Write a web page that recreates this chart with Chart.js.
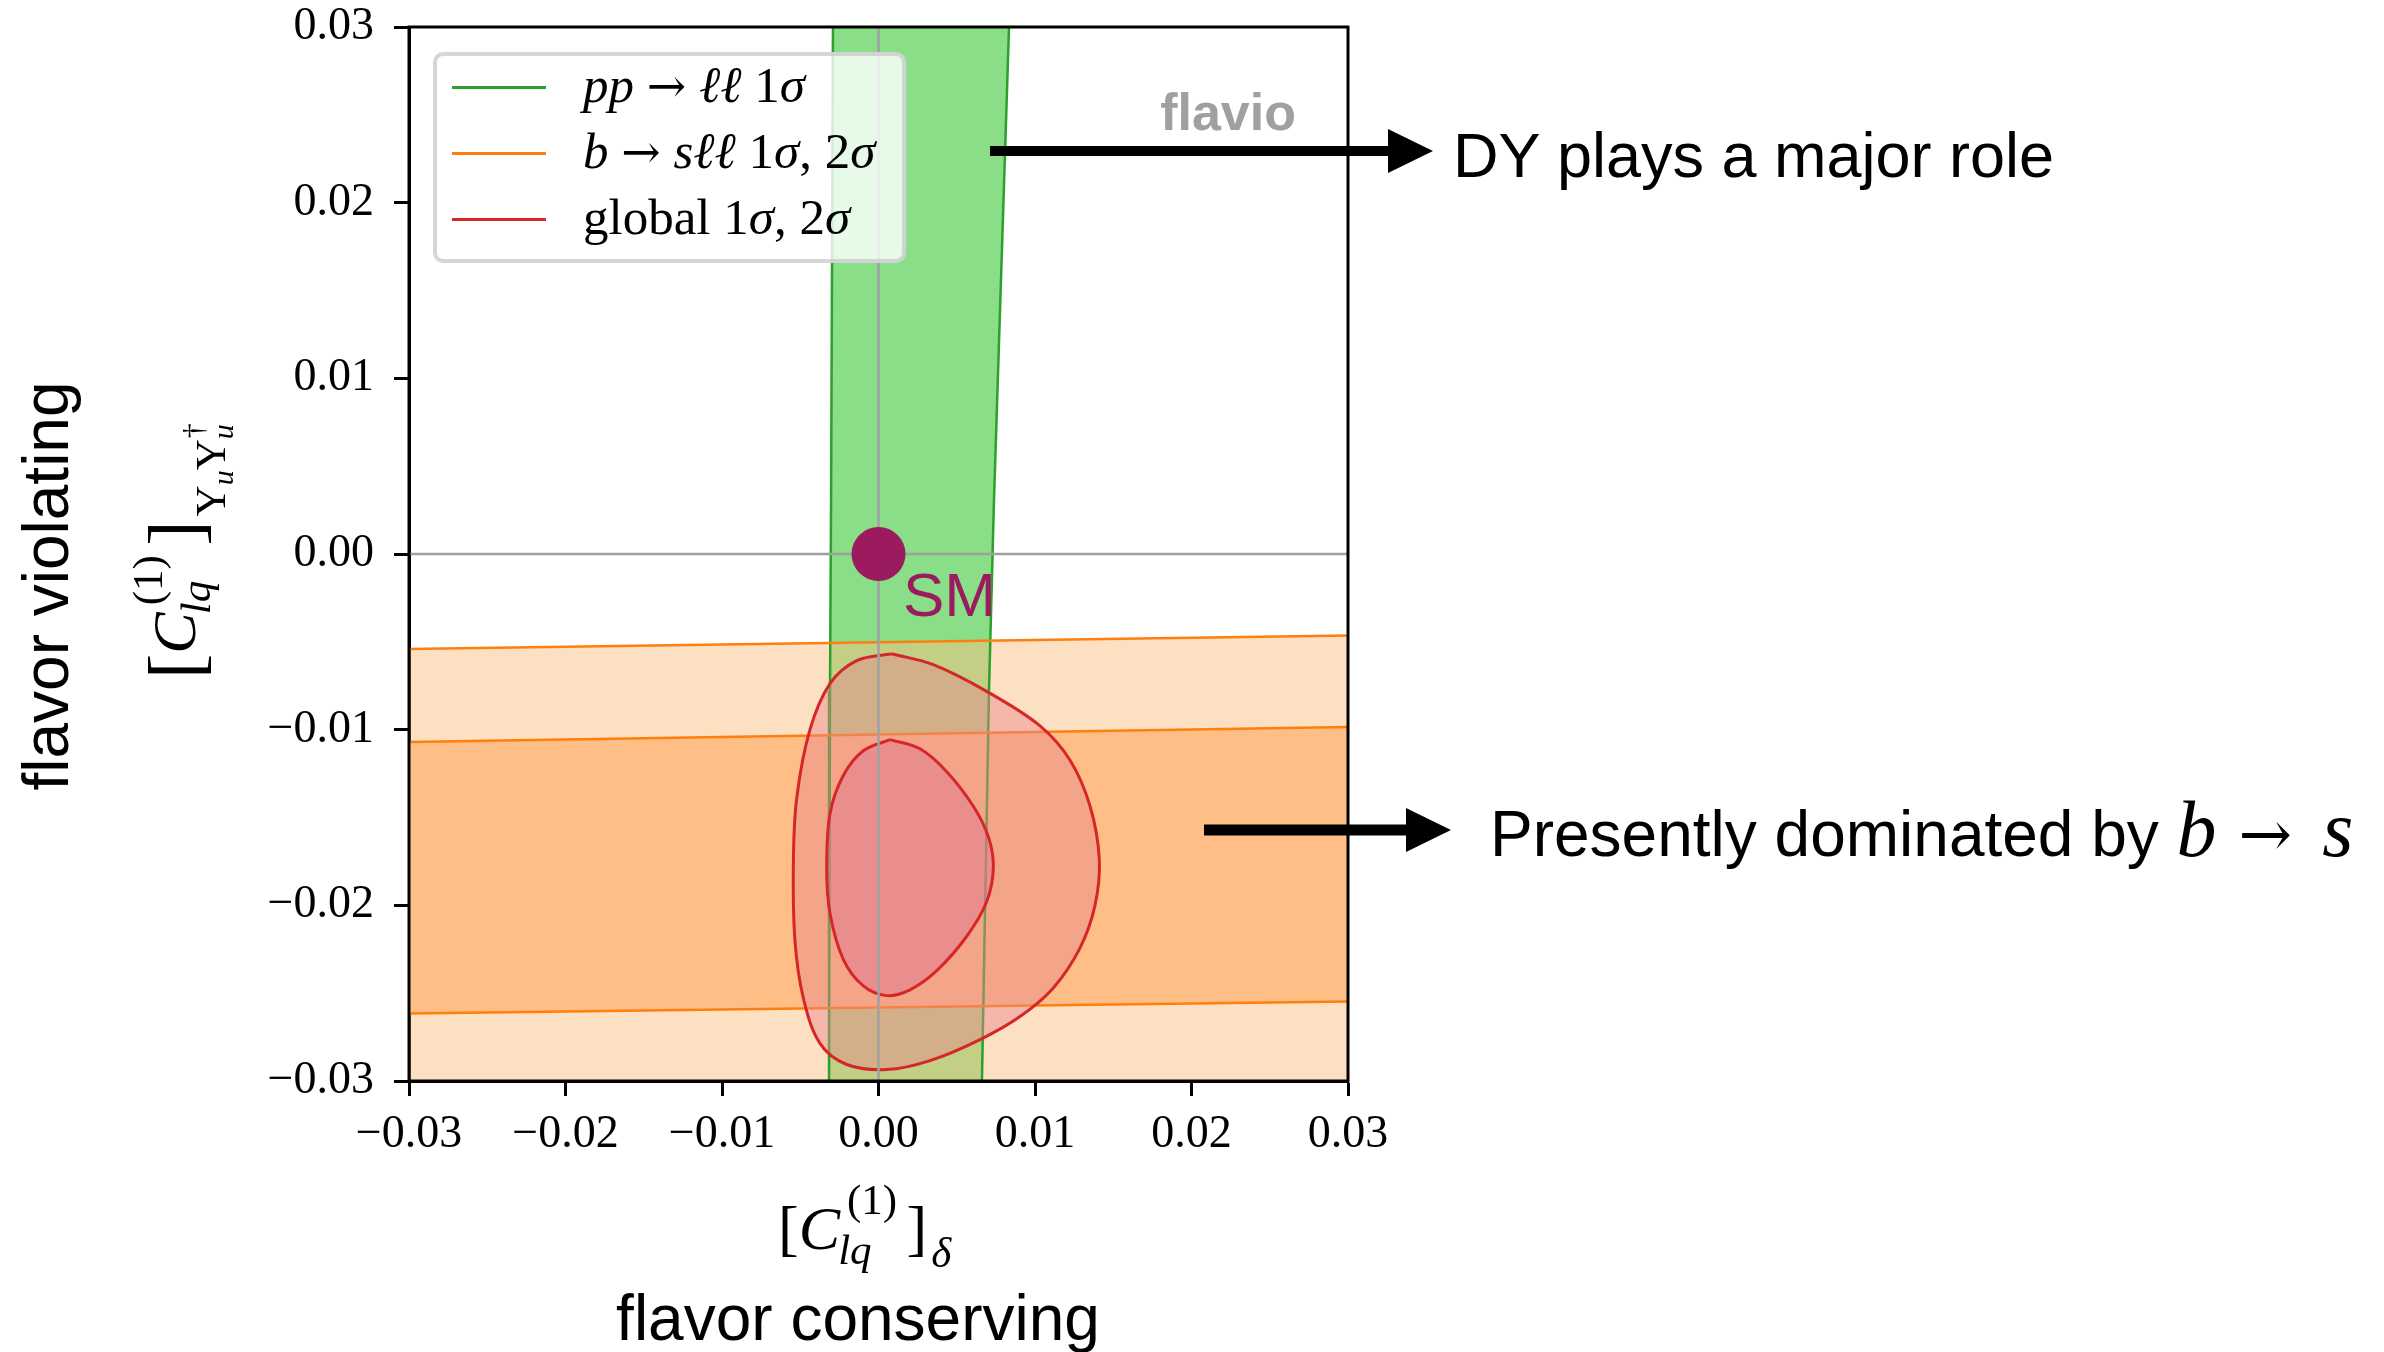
<!DOCTYPE html>
<html>
<head>
<meta charset="utf-8">
<script src="https://cdn.jsdelivr.net/npm/chart.js@4.4.1/dist/chart.umd.min.js"></script>
<style>
  html, body { margin: 0; padding: 0; background: #fff; }
  #wrap { position: relative; width: 2384px; height: 1352px; overflow: hidden; }
  #chart { position: absolute; left: 0; top: 0; }
  .txt { position: absolute; white-space: nowrap; line-height: 1; }
  .sans { font-family: 'Liberation Sans', Arial, sans-serif; }
  .serif { font-family: 'Liberation Serif', 'Times New Roman', serif; }
  .arr { font-family: 'DejaVu Serif', serif; font-style: normal; }
  #legendBox { position: absolute; left: 433px; top: 52px; width: 473px; height: 211px; box-sizing: border-box;
    border: 4px solid rgba(204,204,204,0.8); border-radius: 10px; background: rgba(255,255,255,0.8); }
  .lgLine { position: absolute; left: 452px; width: 94px; height: 3px; }
  .lgText { left: 583px; font-size: 51px; }
  .math { font-family: 'Liberation Serif', 'Times New Roman', serif; font-size: 62px; }
  .s1 { font-size: 43px; display: inline-block; }
  .s2 { font-size: 30px; display: inline-block; }
</style>
</head>
<body>
<div id="wrap">
  <canvas id="chart" width="2384" height="1352"></canvas>

  <!-- légende -->
  <div id="legendBox"></div>
  <div class="lgLine" style="top:86px; background:#2ca02c;"></div>
  <div class="lgLine" style="top:152px; background:#ff7f0e;"></div>
  <div class="lgLine" style="top:218px; background:#d62728;"></div>
  <div class="txt serif lgText" style="top:60px;"><i>pp</i> <span class="arr" style="font-size:47px;">→</span> <i>ℓℓ</i> 1<i>σ</i></div>
  <div class="txt serif lgText" style="top:126px;"><i>b</i> <span class="arr" style="font-size:47px;">→</span> <i>sℓℓ</i> 1<i>σ</i>, 2<i>σ</i></div>
  <div class="txt serif lgText" style="top:192px;">global 1<i>σ</i>, 2<i>σ</i></div>

  <div class="txt sans" style="right:1088px; top:86px; font-size:52px; font-weight:bold; color:#a0a0a0;">flavio</div>
  <div class="txt sans" style="left:903px; top:564px; font-size:62px; color:#9b1b5e;">SM</div>

  <!-- titres d'axes -->
  <div class="txt math" style="left:778px; top:1178px;">[<i>C</i><span class="s1" style="vertical-align:35px; margin-left:7px;">(1)</span><span class="s1" style="vertical-align:-15px; margin-left:-59px;"><i>lq</i></span><span style="margin-left:35px;">]</span><span class="s1" style="vertical-align:-18px; margin-left:4px;"><i>δ</i></span></div>
  <div class="txt math" style="left:126px; top:679px; transform:rotate(-90deg); transform-origin:0 0;"><span style="font-size:76px; vertical-align:-6px;">[</span><i>C</i><span class="s1" style="vertical-align:33px; margin-left:7px;">(1)</span><span class="s1" style="vertical-align:-15px; margin-left:-59px;"><i>lq</i></span><span style="margin-left:35px; font-size:76px; vertical-align:-6px;">]</span><span class="s1" style="vertical-align:-30px; margin-left:4px;">Y<span class="s2" style="vertical-align:-8px;"><i>u</i></span>Y<span class="s2" style="vertical-align:-8px;"><i>u</i></span><span class="s2" style="vertical-align:22px; margin-left:-14px;">†</span></span></div>

  <div class="txt sans" style="left:458px; width:800px; text-align:center; top:1286px; font-size:64px;">flavor conserving</div>
  <div class="txt sans" style="left:-254px; width:600px; text-align:center; top:554px; height:64px; font-size:64px; transform:rotate(-90deg); transform-origin:50% 50%;">flavor violating</div>

  <div class="txt sans" style="left:1453px; top:124px; font-size:63px;">DY plays a major role</div>
  <div class="txt sans" style="left:1490px; top:789px; font-size:64px;">Presently dominated by <span class="serif" style="font-size:80px;"><i>b</i><span class="arr" style="font-size:64px; margin-left:22px;">→</span><i style="margin-left:30px;">s</i></span></div>
</div>

<script>
// Graduations des axes
const xTickValues = [-0.03, -0.02, -0.01, 0.00, 0.01, 0.02, 0.03];
const yTickValues = [-0.03, -0.02, -0.01, 0.00, 0.01, 0.02, 0.03];

// pp → ℓℓ 1σ : bords gauche / droit de la bande (x lu à chaque y)
const dyEdgeY   = [0.03, 0.00307, -0.0078, -0.03];
const dyLeftX   = [-0.00291, -0.00303, -0.00310, -0.00316];
const dyRightX  = [0.00834, 0.00738, 0.00706, 0.00661];

// b → sℓℓ : bandes presque horizontales, y aux deux bords x
const bsX     = [-0.03, 0.03];
const bs2Top  = [-0.00541, -0.00464];
const bs1Top  = [-0.0107, -0.00985];
const bs1Bot  = [-0.02616, -0.02548];

// global : contour 2σ
const global2X = [0.00084, 0.00350, 0.00691, 0.01032, 0.01224, 0.01352, 0.01411, 0.01383, 0.01288, 0.01117, 0.00904, 0.00649,
                  0.00329, 0.00052, -0.00203, -0.00374, -0.00481, -0.00534, -0.00544, -0.00523, -0.00438, -0.00310, -0.00139, 0.00084];
const global2Y = [-0.00568, -0.00630, -0.00782, -0.00978, -0.01174, -0.01436, -0.01740, -0.02002, -0.02242, -0.02470, -0.02633, -0.02764,
                  -0.02884, -0.02935, -0.02906, -0.02786, -0.02525, -0.02198, -0.01762, -0.01392, -0.01000, -0.00738, -0.00607, -0.00568];
// global : contour 1σ
const global1X = [0.00074, 0.00265, 0.00436, 0.00606, 0.00702, 0.00734, 0.00691, 0.00564, 0.00372, 0.00201, 0.00052, -0.00097,
                  -0.00225, -0.00310, -0.00331, -0.00310, -0.00225, -0.00097, 0.00074];
const global1Y = [-0.01057, -0.01109, -0.01239, -0.01436, -0.01610, -0.01784, -0.01980, -0.02176, -0.02372, -0.02481, -0.02514, -0.02459,
                  -0.02307, -0.02045, -0.01784, -0.01479, -0.01261, -0.01120, -0.01057];

// point SM
const smX = [0];
const smY = [0];

const axisMin = -0.03, axisMax = 0.03;

const pts = (xs, ys) => xs.map((x, i) => ({ x: x, y: ys[i] }));
const fmtTick = v => (v < -1e-9 ? '\u2212' : '') + Math.abs(v).toFixed(2);

Chart.defaults.font.family = "'Liberation Serif', 'Times New Roman', serif";
Chart.defaults.color = '#000';

const lineDs = (data, color, width, order) => ({
    data: data, showLine: true, fill: false, borderColor: color, borderWidth: width,
    pointRadius: 0, pointHoverRadius: 0, order: order, clip: 0
});
const fillDs = (data, color, order) => ({
    data: data, showLine: true, fill: 'shape', backgroundColor: color, borderWidth: 0,
    borderColor: 'rgba(0,0,0,0)', pointRadius: 0, pointHoverRadius: 0, order: order
});

const greenPoly = pts(dyLeftX, dyEdgeY).concat(pts(dyRightX, dyEdgeY).reverse());
const bs2Poly = [{ x: bsX[0], y: bs2Top[0] }, { x: bsX[1], y: bs2Top[1] }, { x: bsX[1], y: axisMin }, { x: bsX[0], y: axisMin }];
const bs1Poly = pts(bsX, bs1Top).concat(pts(bsX, bs1Bot).reverse());

const datasets = [
    // point SM
    { data: pts(smX, smY), showLine: false, pointRadius: 27, pointHoverRadius: 27, backgroundColor: '#9b1b5e', borderWidth: 0, order: 0 },
    // axes zéro
    lineDs([{ x: axisMin, y: 0 }, { x: axisMax, y: 0 }], '#a0a0a0', 2.5, 1),
    lineDs([{ x: 0, y: axisMin }, { x: 0, y: axisMax }], '#a0a0a0', 2.5, 1),
    // global 1σ, 2σ
    Object.assign(fillDs(pts(global1X, global1Y), 'rgba(224,120,145,0.5)', 2), { borderColor: '#d62728', borderWidth: 3, tension: 0.35 }),
    Object.assign(fillDs(pts(global2X, global2Y), 'rgba(233,136,142,0.45)', 3), { borderColor: '#d62728', borderWidth: 3, tension: 0.35 }),
    // b → sℓℓ lignes
    lineDs(pts(bsX, bs2Top), '#ff7f0e', 2.5, 4),
    lineDs(pts(bsX, bs1Top), '#ff7f0e', 2.5, 4),
    lineDs(pts(bsX, bs1Bot), '#ff7f0e', 2.5, 4),
    // pp → ℓℓ lignes
    lineDs(pts(dyLeftX, dyEdgeY), '#2ca02c', 2.5, 5),
    lineDs(pts(dyRightX, dyEdgeY), '#2ca02c', 2.5, 5),
    // remplissages
    fillDs(bs1Poly, '#febe86', 6),
    fillDs(bs2Poly, 'rgba(251,191,131,0.5)', 7),
    fillDs(greenPoly, '#89de87', 8)
];

// cadre complet autour de la zone du graphique
const framePlugin = {
    id: 'frame',
    afterDatasetsDraw(chart) {
        const { ctx, chartArea: a } = chart;
        ctx.save();
        ctx.strokeStyle = '#000';
        ctx.lineWidth = 3;
        ctx.strokeRect(a.left, a.top, a.right - a.left, a.bottom - a.top);
        ctx.restore();
    }
};

// les deux flèches d'annotation
const arrowPlugin = {
    id: 'arrows',
    afterDraw(chart) {
        const ctx = chart.ctx;
        const arrow = (x0, x1, y, w, headLen, headH) => {
            ctx.fillRect(x0, y - w / 2, x1 - headLen - x0 + 2, w);
            ctx.beginPath();
            ctx.moveTo(x1 - headLen, y - headH / 2);
            ctx.lineTo(x1, y);
            ctx.lineTo(x1 - headLen, y + headH / 2);
            ctx.closePath();
            ctx.fill();
        };
        ctx.save();
        ctx.fillStyle = '#000';
        arrow(990, 1433, 151, 10, 45, 44);
        arrow(1204, 1451, 830, 11, 45, 44);
        ctx.restore();
    }
};

const axisCommon = (values) => ({
    type: 'linear', min: axisMin, max: axisMax,
    afterBuildTicks: scale => { scale.ticks = values.map(v => ({ value: v })); },
    ticks: { callback: fmtTick, font: { size: 46, lineHeight: 1 }, color: '#000', autoSkip: false, maxRotation: 0 },
    grid: { drawOnChartArea: false, drawTicks: true, tickLength: 15, tickWidth: 3, tickColor: '#000' },
    border: { display: true, color: '#000', width: 3 }
});

// taille des axes fixée, sans marge ajoutée par les étiquettes
const clearPad = scale => { scale.paddingTop = 0; scale.paddingBottom = 0; scale.paddingLeft = 0; scale.paddingRight = 0; };
const xAxis = axisCommon(xTickValues);
xAxis.ticks.padding = 16;
xAxis.afterFit = scale => { scale.height = 120; clearPad(scale); };
const yAxis = axisCommon(yTickValues);
yAxis.ticks.padding = 20;
yAxis.afterFit = scale => { scale.width = 200; clearPad(scale); };

new Chart(document.getElementById('chart'), {
    type: 'scatter',
    data: { datasets: datasets },
    options: {
        responsive: false,
        animation: false,
        devicePixelRatio: 1,
        events: [],
        layout: { padding: { left: 209, right: 1036, top: 27, bottom: 151 } },
        plugins: { legend: { display: false }, tooltip: { enabled: false } },
        scales: { x: xAxis, y: yAxis }
    },
    plugins: [framePlugin, arrowPlugin]
});
</script>
</body>
</html>
